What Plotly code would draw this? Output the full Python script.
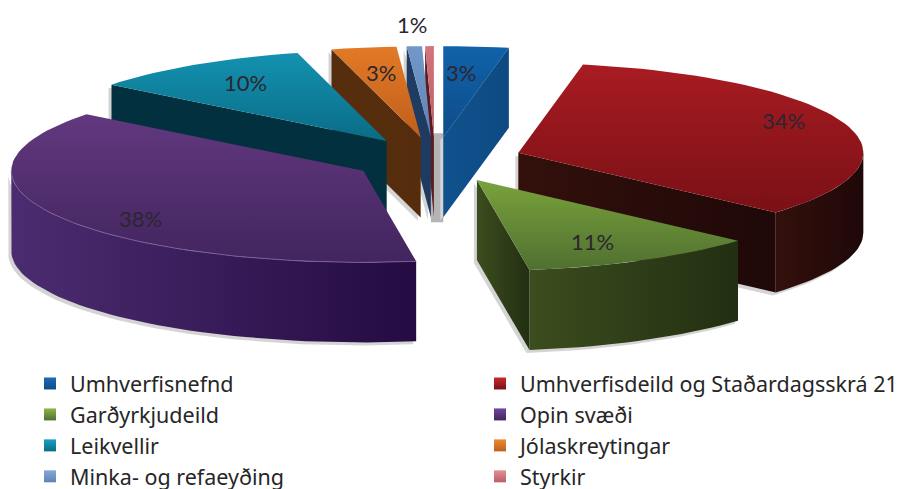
import math
import plotly.graph_objects as go

categories = ["Umhverfisnefnd", "Umhverfisdeild og Staðardagsskrá 21", "Garðyrkjudeild", "Opin svæði",
              "Leikvellir", "Jólaskreytingar", "Minka- og refaeyðing", "Styrkir"]
shares = [3.0, 33.6, 11.0, 38.0, 10.3, 3.0, 0.7, 0.4]
label_texts = ["3%", "34%", "11%", "38%", "10%", "3%", "1%", None]

top_light = ["#1062aa", "#a81c22", "#7aa23c", "#62387f", "#1392b0", "#e27a26", "#7298ca", "#d4747c"]
top_dark = ["#0e4c88", "#7a1016", "#4f7030", "#42255e", "#0a6c86", "#c05f1c", "#5f83b4", "#b95e66"]
wall_light = ["#10528e", "#33100c", "#3c4d1e", "#4c2c70", "#02303f", "#562e0e", "#203c62", "#5a1c20"]
wall_dark = ["#0e4a82", "#1e0808", "#222f12", "#240b42", "#02303f", "#552c0c", "#1f3a60", "#5a1c20"]
legend_bright = ["#1c6cb4", "#c82a2e", "#8cb644", "#6f45a0", "#1aa0c0", "#ee8a2e", "#86a8d8", "#e49098"]

label_x = [461, 783, 592, 140, 245, 381, 412]
label_y = [72, 120, 241, 218, 82, 72, 24]

CX, CY, TILT, DEPTH = 435, 160, 0.26, 80
pulls = [88, 88, 88, 83, 88, 88, 88, 88]
radii = [350, 345, 350, 352, 350, 350, 350, 350]
draw_order = [0, 7, 6, 5, 4, 1, 2, 3]
PAGE_W, PAGE_H, EXTRA_W, EXTRA_H = 899, 489, 61, 20
LEGEND_LEFT, LEGEND_TOP = 30, 363


def project(apex, deg, r):
    t = math.radians(deg)
    return apex[0] + r * math.sin(t), apex[1] - r * TILT * math.cos(t)


def arc(apex, a, b, r, step=2.0):
    n = max(2, int(abs(b - a) / step) + 1)
    return [project(apex, a + (b - a) * i / (n - 1), r) for i in range(n)]


def extrude(points, dx=0, dy=0):
    top = [(x + dx, y + dy) for x, y in points]
    bottom = [(x + dx, y + dy + DEPTH) for x, y in reversed(points)]
    return top + bottom


def poly_trace(points, first, last, direction):
    xs = [p[0] for p in points] + [points[0][0]]
    ys = [p[1] for p in points] + [points[0][1]]
    return go.Scatter(x=xs, y=ys, mode="lines", line=dict(width=0), fill="toself", hoverinfo="skip",
                      showlegend=False,
                      fillgradient=dict(type=direction, colorscale=[[0, first], [1, last]]))


total = sum(shares)
edges = [0.0]
for s in shares:
    edges.append(edges[-1] + s / total * 360)

slices = []
for i in range(len(shares)):
    a, b = edges[i], edges[i + 1]
    r = radii[i]
    mid = math.radians((a + b) / 2)
    apex = (CX + pulls[i] * math.sin(mid), CY - pulls[i] * TILT * math.cos(mid))
    walls = []
    if math.sin(math.radians(a)) < -1e-6:
        walls.append([apex, project(apex, a, r)])
    if math.sin(math.radians(b)) > 1e-6:
        walls.append([apex, project(apex, b, r)])
    lo, hi = max(a, 90), min(b, 270)
    if lo < hi:
        walls.append(arc(apex, lo, hi, r))
    slices.append(dict(apex=apex, a=a, b=b, r=r, walls=walls))

fig = go.Figure()

# soft grey shadows under the extruded walls
for i in draw_order:
    for wall in slices[i]["walls"]:
        fig.add_trace(poly_trace(extrude(wall, -3, 3), "#d4d4d4", "#d4d4d4", "vertical"))

# grey floor visible between the thin slices
inner = [slices[i]["apex"] for i in (6, 0)]
fig.add_shape(type="rect", x0=inner[0][0], x1=inner[1][0], y0=inner[1][1] - 4, y1=inner[1][1] + DEPTH + 5,
              fillcolor="#b4b4b4", line_width=0, layer="below")

for i in draw_order:
    s = slices[i]
    for wall in s["walls"]:
        fig.add_trace(poly_trace(extrude(wall), wall_light[i], wall_dark[i], "horizontal"))
    top = [s["apex"]] + arc(s["apex"], s["a"], s["b"], s["r"])
    fig.add_trace(poly_trace(top, top_dark[i], top_light[i], "vertical"))

# pale rim of the largest slice
rim = arc(slices[3]["apex"], edges[3], 270, slices[3]["r"])
fig.add_trace(go.Scatter(x=[p[0] for p in rim], y=[p[1] for p in rim], mode="lines", hoverinfo="skip",
                         line=dict(color="#7c5c98", width=1), showlegend=False))

for i, name in enumerate(categories):
    fig.add_trace(go.Scatter(x=[None], y=[None], mode="markers", name=name,
                             marker=dict(symbol="square", size=16, color=legend_bright[i],
                                         gradient=dict(type="vertical", color=top_dark[i]))))

labels = [t for t in label_texts if t]
for t, x, y in zip(labels, label_x, label_y):
    fig.add_annotation(x=x, y=y, text=t, showarrow=False, font=dict(family="Lato", size=22, color="#2b2630"))

fig.update_layout(
    width=PAGE_W + EXTRA_W, height=PAGE_H + EXTRA_H,
    margin=dict(l=0, r=EXTRA_W, t=0, b=EXTRA_H),
    paper_bgcolor="white", plot_bgcolor="white",
    xaxis=dict(range=[0, PAGE_W], visible=False, fixedrange=True),
    yaxis=dict(range=[PAGE_H, 0], visible=False, fixedrange=True),
    font=dict(family="Noto Sans", size=21.5, color="#262626"),
    legend=dict(orientation="h", x=LEGEND_LEFT / PAGE_W, y=(PAGE_H - LEGEND_TOP) / PAGE_H,
                xanchor="left", yanchor="top",
                entrywidth=405, entrywidthmode="pixels", itemsizing="constant",
                bgcolor="rgba(0,0,0,0)", font=dict(family="Noto Sans", size=21.5, color="#262626")),
)

fig.write_html("out.html", config={"displayModeBar": False},
               post_script="document.body.style.margin='0';document.documentElement.style.overflow='hidden';")
